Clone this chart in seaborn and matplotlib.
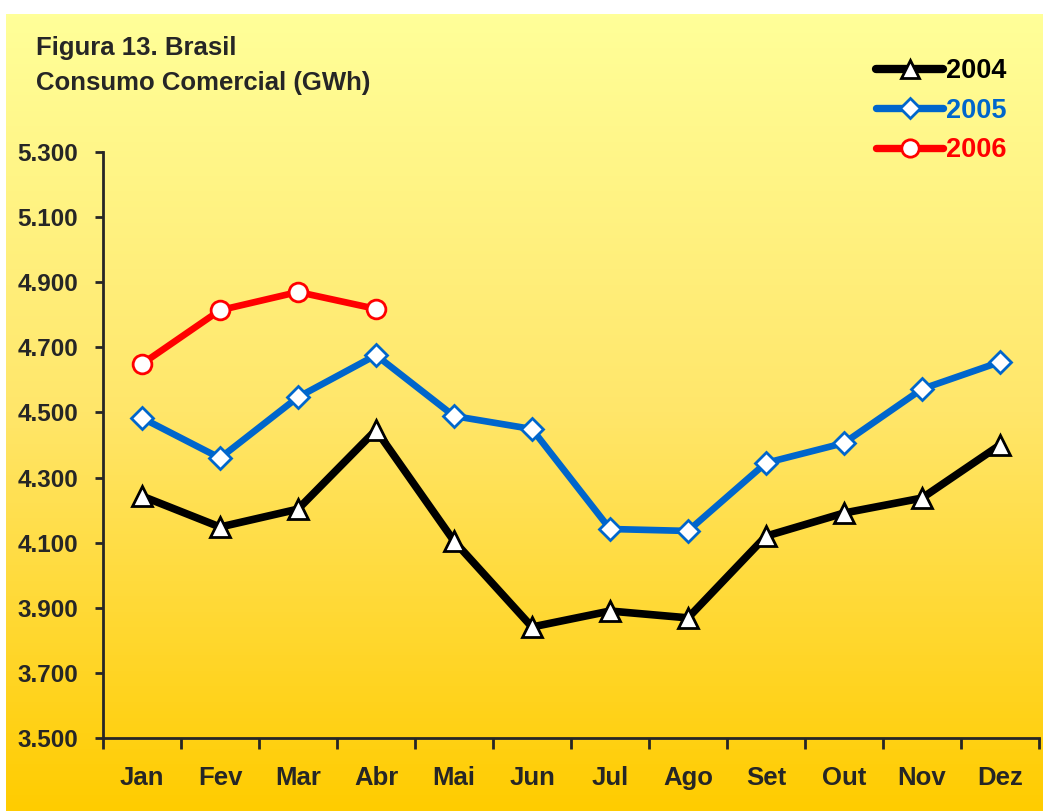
import numpy as np
import pandas as pd
import seaborn as sns
from matplotlib import pyplot as plt
from matplotlib import lines as mlines
from matplotlib import ticker as mticker
from matplotlib.colors import LinearSegmentedColormap

# monthly commercial consumption (GWh)
meses = ["Jan", "Fev", "Mar", "Abr", "Mai", "Jun", "Jul", "Ago", "Set", "Out", "Nov", "Dez"]
gwh_2004 = [4243, 4148, 4203, 4446, 4105, 3841, 3890, 3869, 4120, 4191, 4237, 4400]
gwh_2005 = [4483, 4360, 4547, 4676, 4489, 4449, 4142, 4136, 4345, 4406, 4572, 4655]
gwh_2006 = [4649, 4814, 4870, 4818]

anos = ["2004", "2005", "2006"]
cores = {"2004": "#000000", "2005": "#0066CC", "2006": "#FF0000"}
marcadores = {"2004": "^", "2005": "D", "2006": "o"}
tamanhos = {"2004": 14, "2005": 11, "2006": 13.5}
larguras = {"2004": 5.5, "2005": 4.8, "2006": 4.8}

if __name__ == "__main__":
	sns.set_style("ticks")
	plt.rcParams["font.family"] = ["Liberation Sans", "DejaVu Sans"]
	plt.rcParams["font.weight"] = "bold"

	df = pd.concat([
		pd.DataFrame({"mes": meses, "gwh": gwh_2004, "ano": "2004"}),
		pd.DataFrame({"mes": meses, "gwh": gwh_2005, "ano": "2005"}),
		pd.DataFrame({"mes": meses[:len(gwh_2006)], "gwh": gwh_2006, "ano": "2006"}),
	], ignore_index=True)

	fig = plt.figure(figsize=(10.43, 8.11), dpi=100)
	fig.patch.set_facecolor("white")

	# gradient background panel
	bg = fig.add_axes([6/1043, 0, 1 - 6/1043, 1 - 14/811])
	grad = np.linspace(0, 1, 256).reshape(-1, 1)
	cmap = LinearSegmentedColormap.from_list("amarelo", ["#FFFF99", "#FFE66A", "#FFCC00"])
	bg.imshow(grad, aspect="auto", cmap=cmap, extent=[0, 1, 0, 1])
	bg.set_axis_off()
	bg.set_zorder(0)

	ax = fig.add_axes([103/1043, 1 - 738/811, (1039 - 103)/1043, (738 - 152)/811])
	ax.set_zorder(1)
	ax.patch.set_alpha(0)

	x_pos = {m: i for i, m in enumerate(meses)}
	df["x"] = df["mes"].map(x_pos)

	for ano in anos:
		sub = df[df["ano"] == ano]
		sns.lineplot(data=sub, x="x", y="gwh", ax=ax, color=cores[ano], lw=larguras[ano],
			marker=marcadores[ano], ms=tamanhos[ano], mfc="white", mec=cores[ano], mew=2,
			sort=False, legend=False, solid_joinstyle="miter")

	ax.set_xlim(-0.5, 11.5)
	ax.set_ylim(3500, 5300)
	ax.set_yticks(np.arange(3500, 5301, 200))
	ax.yaxis.set_major_formatter(mticker.FuncFormatter(lambda v, p: f"{v:,.0f}".replace(",", ".")))
	ax.set_xticks(range(len(meses)))
	ax.set_xticklabels(meses)
	ax.set_xticks(np.arange(-0.5, 12, 1), minor=True)
	ax.tick_params(axis="x", which="major", length=0, pad=20, labelsize=18.5)
	ax.tick_params(axis="x", which="minor", length=8, width=2)
	ax.tick_params(axis="y", length=6, width=2, pad=12, labelsize=17.5)
	for lab in ax.get_xticklabels() + ax.get_yticklabels():
		lab.set_fontweight("bold")
	ax.set_xlabel("")
	ax.set_ylabel("")
	sns.despine(ax=ax)
	for s in ["left", "bottom"]:
		ax.spines[s].set_linewidth(2)

	fig.text(36/1043, 1 - 36/811, "Figura 13. Brasil\nConsumo Comercial (GWh)", fontsize=18.5,
		fontweight="bold", va="top", ha="left", linespacing=1.6)

	handles = [mlines.Line2D([], [], color=cores[a], lw=larguras[a] + 0.5, marker=marcadores[a],
		ms=tamanhos[a] - 1, mfc="white", mec=cores[a], mew=2, label=a) for a in anos]
	fig.legend(handles=handles, loc="upper right", bbox_to_anchor=(1031/1043, 1 - 34/811),
		frameon=False, labelcolor=[cores[a] for a in anos], handlelength=2.5, handletextpad=0.1,
		labelspacing=0.5, prop={"weight": "bold", "size": 19.5})

	fig.savefig("out.png", dpi=100)
